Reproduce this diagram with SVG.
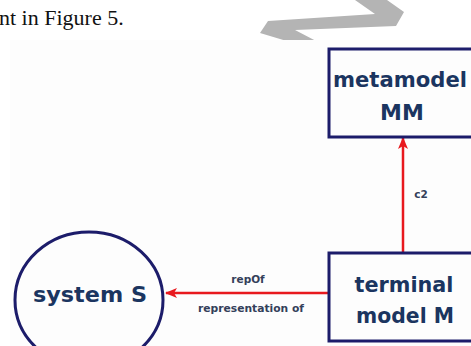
<svg xmlns="http://www.w3.org/2000/svg" width="471" height="346" viewBox="0 0 471 346">
  <defs>
    <style>
      .body { font-family: "Liberation Serif", "Times New Roman", serif; font-size: 22px; fill: #111; }
      .node { fill: none; stroke: #1c1c6a; stroke-width: 3; }
      .title { font-family: "DejaVu Sans", "Noto Sans", sans-serif; font-weight: bold; font-size: 22px; fill: #1b3560; text-anchor: middle; }
      .edge { stroke: #e8191e; stroke-width: 2.5; fill: none; }
      .lbl { font-family: "DejaVu Sans", "Noto Sans", sans-serif; font-weight: bold; font-size: 10.5px; fill: #34405a; text-anchor: middle; }
    </style>
    <marker id="arrow" viewBox="0 0 12 10" refX="11" refY="5" markerWidth="12" markerHeight="10" markerUnits="userSpaceOnUse" orient="auto">
      <path d="M0,0 L12,5 L0,10 L3,5 Z" fill="#e8191e"/>
    </marker>
  </defs>

  <rect width="471" height="346" fill="#ffffff"/>

  <!-- page text and the grey page-turn arrow above the figure -->
  <text class="body" x="-1" y="25">nt in Figure 5.</text>
  <polygon points="355,0 387,0 404,12 396,26 295,30 318,42 290,42 260,33 268,21 375,14" fill="#b4b4b4"/>

  <!-- figure canvas -->
  <rect x="10" y="40" width="461" height="306" fill="#fdfdfd"/>

  <!-- connectors -->
  <g id="connectors">
    <line class="edge" x1="403" y1="253" x2="403" y2="138" marker-end="url(#arrow)"/>
    <text class="lbl" x="421" y="198">c2</text>
    <line class="edge" x1="329" y1="293" x2="166" y2="293" marker-end="url(#arrow)"/>
    <text class="lbl" x="248" y="283">repOf</text>
    <text class="lbl" x="251" y="312" textLength="106" lengthAdjust="spacingAndGlyphs">representation of</text>
  </g>

  <g id="metamodel">
    <rect class="node" x="329" y="49" width="146" height="88"/>
    <text class="title" x="400" y="87" textLength="134" lengthAdjust="spacingAndGlyphs">metamodel</text>
    <text class="title" x="402" y="120">MM</text>
  </g>

  <g id="terminal-model">
    <rect class="node" x="329" y="253" width="146" height="88"/>
    <text class="title" x="404" y="292" textLength="99" lengthAdjust="spacingAndGlyphs">terminal</text>
    <text class="title" x="405" y="323" textLength="98" lengthAdjust="spacingAndGlyphs">model M</text>
  </g>

  <g id="system">
    <ellipse class="node" cx="89" cy="300" rx="74" ry="68"/>
    <text class="title" x="90" y="302" textLength="114" lengthAdjust="spacingAndGlyphs">system S</text>
  </g>
</svg>
